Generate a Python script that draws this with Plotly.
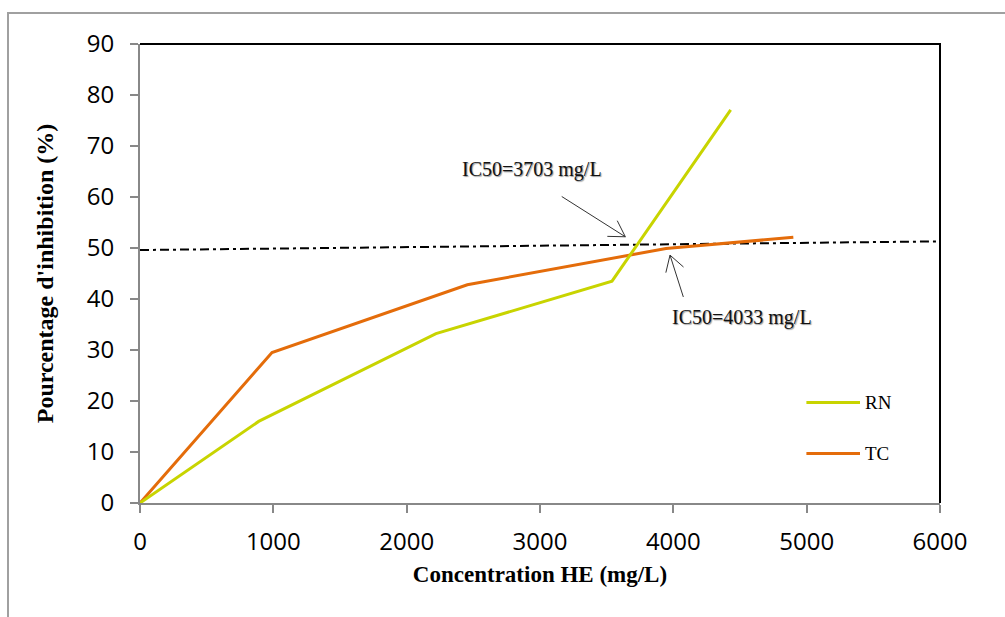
import math
import plotly.graph_objects as go

# Data
rn_x = [0, 890, 2220, 3540, 4430]
rn_y = [0, 16.0, 33.2, 43.5, 77.1]
tc_x = [0, 990, 2455, 3945, 4900]
tc_y = [0, 29.5, 42.8, 49.9, 52.1]
ref_x = [0, 6000]
ref_y = [49.6, 51.3]
x_ticks = [0, 1000, 2000, 3000, 4000, 5000, 6000]
y_ticks = [0, 10, 20, 30, 40, 50, 60, 70, 80, 90]

# Annotation arrows (tail -> tip, data units)
arrows = [((3163, 60.1), (3640, 52.2)), ((4075, 40.4), (3975, 48.6))]

RN_COLOR = "#c8d400"
TC_COLOR = "#e46c0a"
TICK_FONT = dict(family="Open Sans, Noto Sans, sans-serif", size=24, color="#000")
SERIF = "Liberation Serif, Times New Roman, serif"

W, H = 1005, 617
ML, MR, MT, MB = 140, 65, 44, 114
XR, YR = [0, 6000], [0, 90]
sx = (W - ML - MR) / (XR[1] - XR[0])
sy = (H - MT - MB) / (YR[1] - YR[0])

fig = go.Figure()
fig.add_trace(go.Scatter(x=ref_x, y=ref_y, mode="lines", showlegend=False,
                         line=dict(color="black", width=2, dash="9px,4px,3px,4px")))
fig.add_trace(go.Scatter(x=tc_x, y=tc_y, mode="lines", name="TC", showlegend=False,
                         line=dict(color=TC_COLOR, width=3)))
fig.add_trace(go.Scatter(x=rn_x, y=rn_y, mode="lines", name="RN", showlegend=False,
                         line=dict(color=RN_COLOR, width=3)))

fig.update_xaxes(range=XR, tickvals=x_ticks, ticks="outside", ticklen=8,
                 tickcolor="#888", tickwidth=2, showline=True, linecolor="#888",
                 linewidth=2, showgrid=False, zeroline=False, tickfont=TICK_FONT,
                 ticklabelstandoff=8,
                 title=dict(text="<b>Concentration HE (mg/L)</b>",
                            font=dict(family=SERIF, size=23, color="#000"), standoff=10))
fig.update_yaxes(range=YR, tickvals=y_ticks, ticks="outside", ticklen=8,
                 tickcolor="#888", tickwidth=2, showline=True, linecolor="#888",
                 linewidth=2, showgrid=False, zeroline=False, tickfont=TICK_FONT,
                 ticklabelstandoff=11,
                 title=dict(text="<b>Pourcentage d'inhibition (%)</b>",
                            font=dict(family=SERIF, size=24, color="#000"), standoff=26))

shapes = [
    # top and right frame (black)
    dict(type="path", xref="paper", yref="paper",
         path="M 0,1 L 1,1 L 1,0", line=dict(color="black", width=2)),
    # outer gray border
    dict(type="path", xref="paper", yref="paper",
         path="M -0.165,-0.3 L -0.165,1.0675 L 1.1,1.0675", line=dict(color="#a0a0a0", width=2)),
    # legend lines
    dict(type="line", xref="paper", yref="paper", x0=0.833, x1=0.9, y0=0.219, y1=0.219,
         line=dict(color=RN_COLOR, width=3)),
    dict(type="line", xref="paper", yref="paper", x0=0.833, x1=0.9, y0=0.108, y1=0.108,
         line=dict(color=TC_COLOR, width=3)),
]

# arrows: shaft + open V head (head drawn in pixel units anchored at tip)
HEAD_LEN, HEAD_ANG = 18, math.radians(31)
for (tx, ty), (hx, hy) in arrows:
    shapes.append(dict(type="line", xref="x", yref="y", x0=tx, y0=ty, x1=hx, y1=hy,
                       line=dict(color="#333", width=1)))
    bx, by = (tx - hx) * sx, (ty - hy) * sy  # back direction, pixels, y up
    n = math.hypot(bx, by)
    bx, by = bx / n, by / n
    for s in (1, -1):
        a = s * HEAD_ANG
        dx = HEAD_LEN * (bx * math.cos(a) - by * math.sin(a))
        dy = HEAD_LEN * (bx * math.sin(a) + by * math.cos(a))
        shapes.append(dict(type="line", xref="x", yref="y",
                           xsizemode="pixel", ysizemode="pixel", xanchor=hx, yanchor=hy,
                           x0=0, y0=0, x1=dx, y1=dy, line=dict(color="#333", width=1)))

annotations = [
    dict(xref="paper", yref="paper", x=0.904, y=0.219, text="RN", showarrow=False,
         xanchor="left", yanchor="middle", font=dict(family=SERIF, size=19, color="#000")),
    dict(xref="paper", yref="paper", x=0.904, y=0.108, text="TC", showarrow=False,
         xanchor="left", yanchor="middle", font=dict(family=SERIF, size=19, color="#000")),
    dict(x=2940, y=65.4, text="IC50=3703 mg/L", showarrow=False,
         font=dict(family=SERIF, size=20, color="#111", shadow="1px 1px 1px #999")),
    dict(x=4515, y=36.4, text="IC50=4033 mg/L", showarrow=False,
         font=dict(family=SERIF, size=20, color="#111", shadow="1px 1px 1px #999")),
]

fig.update_layout(width=W, height=H, margin=dict(l=ML, r=MR, t=MT, b=MB),
                  plot_bgcolor="white", paper_bgcolor="white",
                  shapes=shapes, annotations=annotations, showlegend=False)

fig.write_html("out.html")
